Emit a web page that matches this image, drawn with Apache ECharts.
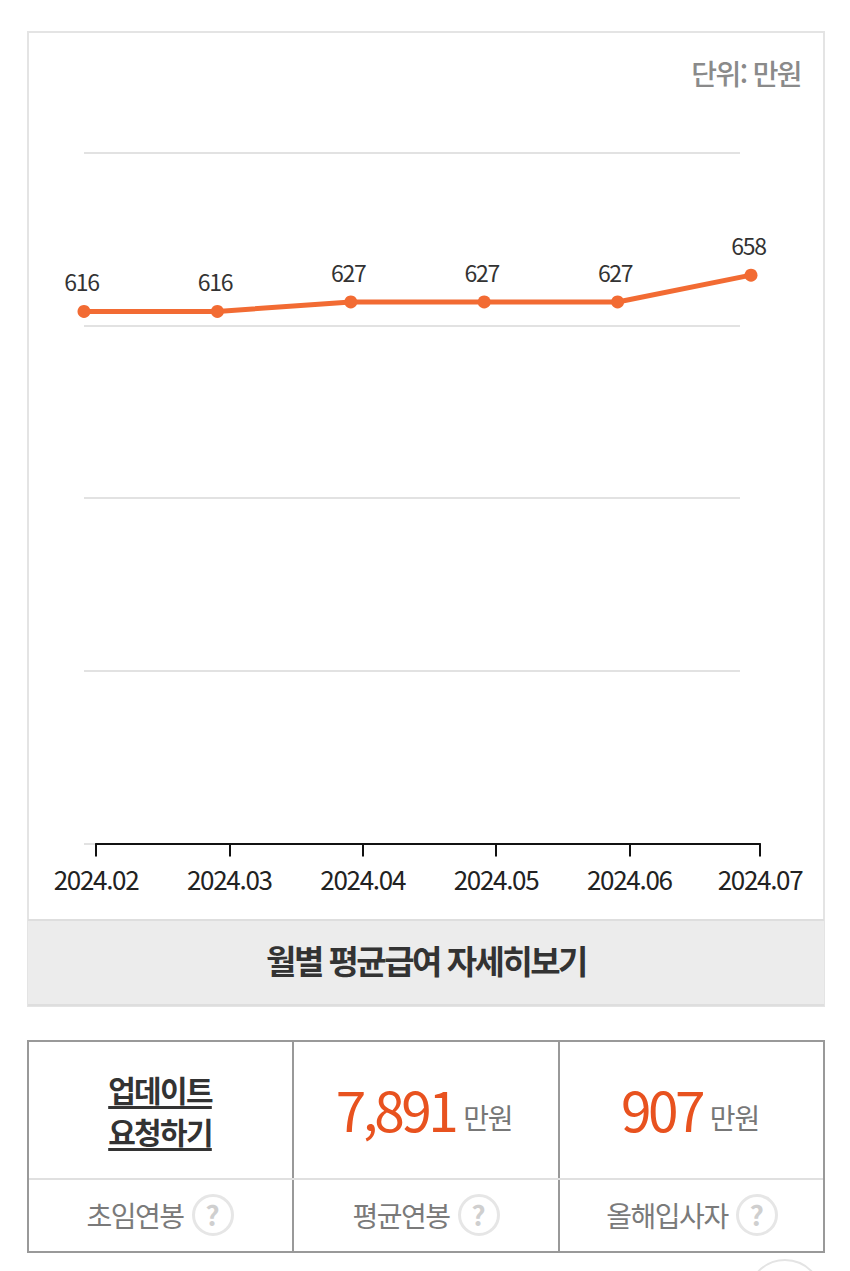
<!DOCTYPE html>
<html lang="ko">
<head>
<meta charset="utf-8">
<script src="https://cdn.jsdelivr.net/npm/echarts@6/dist/echarts.min.js"></script>
<style>
html,body{margin:0;padding:0;background:#fff;width:850px;height:1271px;overflow:hidden;font-family:"Noto Sans CJK KR","Noto Sans",sans-serif}
#chart{position:absolute;left:0;top:0;width:850px;height:919px;letter-spacing:-1.3px}
.abs{position:absolute;box-sizing:border-box}
#card{left:27px;top:31px;width:798px;height:976px;border:2px solid #e4e4e4}
#unit{right:49px;top:52px;font-size:28px;line-height:42px;color:#8a8a8a;letter-spacing:-1.6px;white-space:nowrap;font-weight:500}
#btn{left:28px;top:919px;width:796px;height:87px;background:#ececec;border-top:2px solid #dedede;border-bottom:2px solid #dedede;text-align:center;font-size:33px;line-height:79px;font-weight:700;color:#333;letter-spacing:-2.5px}
#tbl{left:27px;top:1040px;width:798px;height:213px;border:2px solid #999}
.v{position:absolute;top:0;bottom:0;width:2px;background:#999}
.h{position:absolute;left:0;right:0;top:136px;height:2px;background:#e0e0e0}
.link{position:absolute;left:-1px;width:264px;text-align:center;top:26px;font-size:30px;line-height:42px;font-weight:700;color:#333;letter-spacing:-1.7px;text-decoration:underline;text-underline-offset:4px}
.val{position:absolute;top:28px;width:264px;text-align:center;white-space:nowrap;color:#777;font-size:28px;line-height:76px;letter-spacing:-1.2px}
.val b{font-weight:400;font-size:55px;color:#e8521f;letter-spacing:-3.6px;margin-right:8px;vertical-align:-3px}
.lab{position:absolute;top:137px;height:72px;width:264px;display:flex;align-items:center;justify-content:center;color:#7a7a7a;font-size:28px;letter-spacing:-1.5px;white-space:nowrap}
.q{display:inline-block;box-sizing:border-box;width:42px;height:42px;border-radius:50%;border:3px solid #e6e6e6;margin-left:8px;text-align:center;font-size:28px;line-height:35px;font-weight:700;color:#cfcfcf;letter-spacing:0}
#arc{left:747px;top:1259px;width:76px;height:76px;border-radius:50%;border:2px solid #e4e4e4}
</style>
</head>
<body>
<div class="abs" id="card"></div>
<div id="chart"></div>
<div class="abs" id="unit"></div>
<div class="abs" id="btn"></div>
<div class="abs" id="tbl"></div>
<div class="abs" id="arc"></div>
<script>
const months = ['2024.02','2024.03','2024.04','2024.05','2024.06','2024.07'];
const salary = [616,616,627,627,627,658];
const yTicks = [0,200,400,600,800];
const unitText = '단위: 만원';
const buttonText = '월별 평균급여 자세히보기';
const linkLines = ['업데이트','요청하기'];
const summaryValues = ['7,891','907'];
const summaryUnit = '만원';
const summaryLabels = ['초임연봉','평균연봉','올해입사자'];

document.getElementById('unit').textContent = unitText;
document.getElementById('btn').textContent = buttonText;

const cellW = 266;
let html = '<div class="v" style="left:263px"></div><div class="v" style="left:529px"></div><div class="h"></div>';
html += '<div class="link">' + linkLines.join('<br>') + '</div>';
summaryValues.forEach((v,i)=>{
  html += '<div class="val" style="left:'+(cellW*(i+1)-3)+'px"><b>'+v+'</b>'+summaryUnit+'</div>';
});
summaryLabels.forEach((t,i)=>{
  html += '<div class="lab" style="left:'+(cellW*i-1)+'px">'+t+'<span class="q">?</span></div>';
});
document.getElementById('tbl').innerHTML = html;

const chart = echarts.init(document.getElementById('chart'), null, {renderer:'svg', width:850, height:919});
const tickAt = months.map((m,i)=> i === months.length-1 ? 4.98 : i);
chart.setOption({
  animation:false,
  backgroundColor:'transparent',
  textStyle:{fontFamily:'"Noto Sans CJK KR","Noto Sans",sans-serif'},
  grid:[
    {left:84, width:656, top:152.5, height:691},
    {left:84, width:667, top:152.5, height:691},
    {left:96, width:664, top:152.5, height:691}
  ],
  xAxis:[
    {gridIndex:0, type:'category', data:months, show:false},
    {gridIndex:1, type:'category', data:months, boundaryGap:false, show:false},
    {gridIndex:2, type:'value', min:0, max:4.98, position:'bottom', splitLine:{show:false},
      axisLine:{show:true, onZero:false, lineStyle:{color:'#111', width:2}},
      axisTick:{show:true, length:13, customValues:tickAt, lineStyle:{color:'#111', width:2}},
      axisLabel:{show:true, customValues:tickAt, margin:22, fontSize:26, color:'#222',
        showMinLabel:true, showMaxLabel:true, hideOverlap:false, alignMinLabel:'center', alignMaxLabel:'center',
        formatter:(v)=>months[tickAt.indexOf(v)]}}
  ],
  yAxis:[
    {gridIndex:0, type:'value', min:yTicks[0], max:yTicks[yTicks.length-1], interval:200, axisLine:{show:false}, axisTick:{show:false}, axisLabel:{show:false},
      splitLine:{show:true, lineStyle:{color:'#e2e2e2', width:2}}},
    {gridIndex:1, type:'value', min:yTicks[0], max:yTicks[yTicks.length-1], interval:200, show:false, splitLine:{show:false}},
    {gridIndex:2, type:'value', min:0, max:1, show:false, splitLine:{show:false}}
  ],
  series:[{
    type:'line', xAxisIndex:1, yAxisIndex:1, data:salary, symbol:'circle', symbolSize:13, showSymbol:true, clip:false,
    lineStyle:{color:'#f26b33', width:5}, itemStyle:{color:'#f26b33'},
    label:{show:true, position:'top', distance:12, offset:[-2.5,0], fontSize:23, color:'#333'}
  }]
});
</script>
</body>
</html>
